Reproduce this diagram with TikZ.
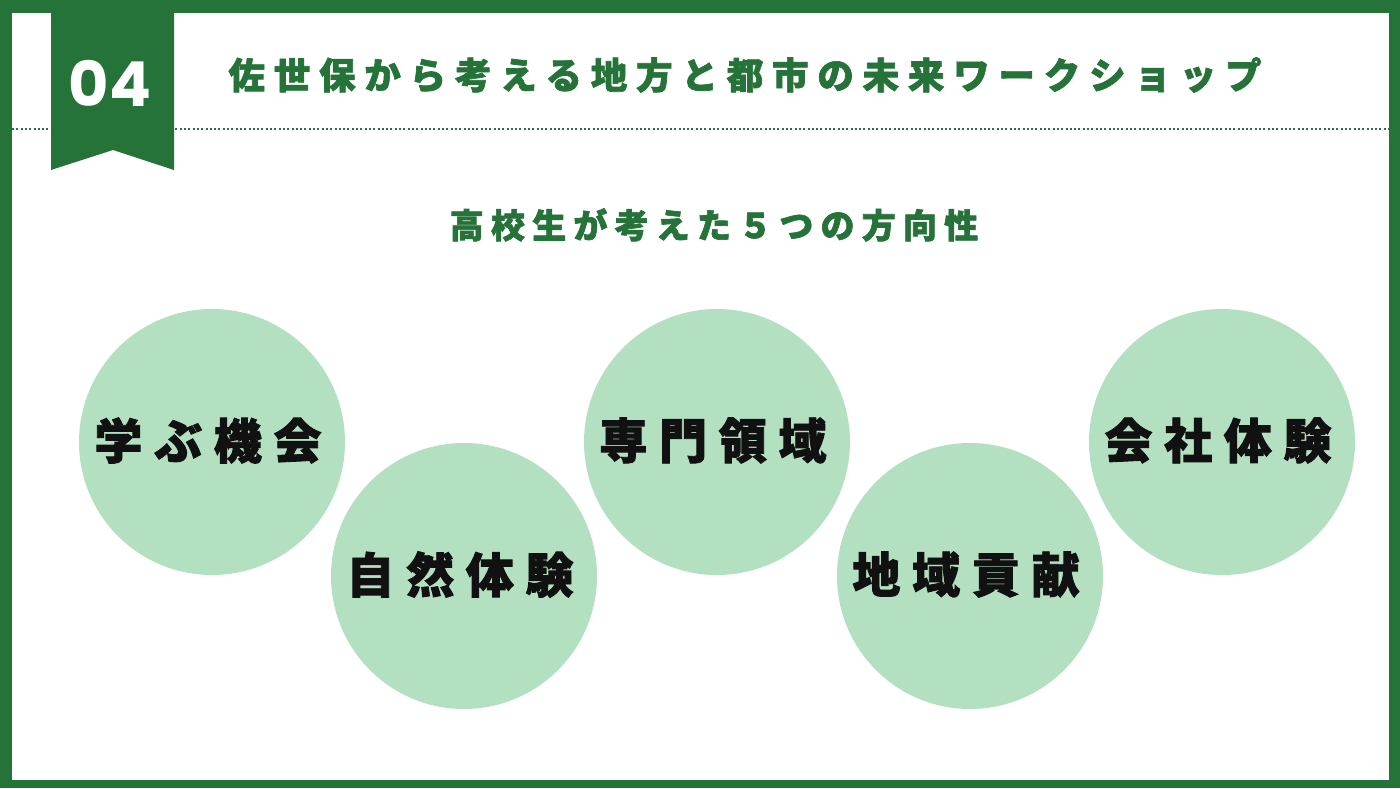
\documentclass[tikz,border=0pt]{standalone}
\usepackage{fontspec}
\newfontfamily\jp{Noto Sans CJK JP}[BoldFeatures={FakeBold=1.8}]
\newfontfamily\pop{Poppins}
\definecolor{dg}{HTML}{26733A}
\definecolor{lg}{HTML}{B3E0C1}
\definecolor{ink}{HTML}{111111}
\makeatletter
\newcommand\sptext[2]{\def\sp@gap{}\@tfor\sp@c:=#2\do{\sp@gap\sp@c\def\sp@gap{\kern#1}}}
\makeatother
\tikzset{
  bubble/.style={circle, fill=lg, minimum size=266pt, inner sep=0pt},
  btext/.style={text=ink, font=\jp\bfseries\fontsize{48}{52}\selectfont, inner sep=0pt, xshift=-4pt, yshift=1.5pt},
  ttl/.style={text=dg, font=\jp\bfseries\fontsize{36.5}{40}\selectfont, inner sep=0pt},
}
\begin{document}
\begin{tikzpicture}[x=1pt,y=-1pt]
\useasboundingbox (0,0) rectangle (1400,788);
\fill[dg] (0,0) rectangle (1400,788);
\fill[white] (12,13) rectangle (1389,780);
% dotted rule
\coordinate (dl) at (12,129);
\coordinate (dr) at (1389,129);
\draw[dg, line width=2pt, dash pattern=on 2pt off 2.3pt] (dl) -- (dr);
% ribbon
\fill[dg] (51,13) -- (174,13) -- (174,170) -- (113,150) -- (51,170) -- cycle;
\node[text=white, font=\pop\bfseries\fontsize{62}{62}\selectfont, inner sep=0pt] (num) at (110,83) {04};
% title
\node[ttl] (title) at (745,75) {\sptext{8.8pt}{佐世保から考える地方と都市の未来ワークショップ}};
\node[ttl, font=\jp\bfseries\fontsize{34}{40}\selectfont] (sub) at (714,225) {\sptext{7.2pt}{高校生が考えた５つの方向性}};
% bubbles
\node[bubble] (c1) at (212,442) {};
\node[bubble] (c2) at (464,576) {};
\node[bubble] (c3) at (717,442) {};
\node[bubble] (c4) at (970,576) {};
\node[bubble] (c5) at (1222,442) {};
\node[btext] (t1) at (c1) {\sptext{11.7pt}{学ぶ機会}};
\node[btext] (t2) at (c2) {\sptext{11.7pt}{自然体験}};
\node[btext] (t3) at (c3) {\sptext{11.7pt}{専門領域}};
\node[btext] (t4) at (c4) {\sptext{11.7pt}{地域貢献}};
\node[btext] (t5) at (c5) {\sptext{11.7pt}{会社体験}};
\end{tikzpicture}
\end{document}
